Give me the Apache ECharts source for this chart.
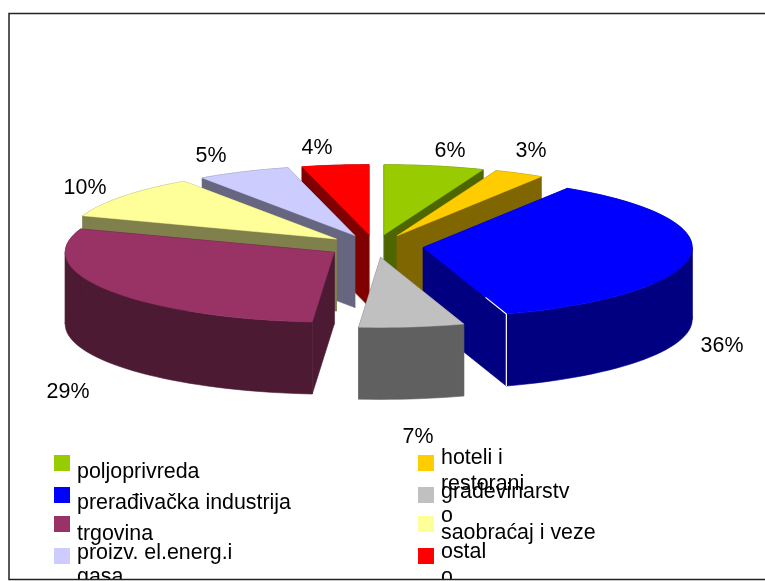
<!DOCTYPE html>
<html>
<head>
<meta charset="utf-8">
<style>
  html, body { margin: 0; padding: 0; background: #fff; }
  #chart { width: 765px; height: 581px; }
</style>
<script src="https://cdn.jsdelivr.net/npm/echarts@6/dist/echarts.min.js"></script>
</head>
<body>
<div id="chart"></div>
<script>
const categories = ['poljoprivreda', 'hoteli i restorani', 'prerađivačka industrija', 'građevinarstvo', 'trgovina', 'saobraćaj i veze', 'proizv. el.energ.i gasa', 'ostalo']
// shares, printed labels are separate because they do not quite agree
const shares = [6, 3, 36, 6.3, 29.1, 10, 5.6, 4]
const shareLabels = ['6%', '3%', '36%', '7%', '29%', '10%', '5%', '4%']
const topColors = ['#99cc00', '#ffcc00', '#0000ff', '#c0c0c0', '#993366', '#ffff99', '#ccccff', '#ff0000']
const wallColors = ['#4d6600', '#806600', '#000080', '#606060', '#4d1a33', '#80804d', '#666680', '#800000']
// back to front
const paintOrder = [7, 6, 5, 0, 1, 2, 4, 3]

const FONT = '"Liberation Sans", Arial, sans-serif'
const FONT_SIZE = 21.4
const cx = 375, cy = 246, rx = 269, ry = 70, depth = 72
const explodeX = 48.6, explodeY = 11.5
const seamSlice = 2

const total = shares.reduce((a, b) => a + b, 0)
const starts = []
shares.reduce((acc, v, i) => {
  starts[i] = acc
  return acc + v
}, 0)

function arcPoints(ax, ay, a0, a1) {
  const pts = []
  const steps = Math.max(2, Math.round((a1 - a0) / 0.04))
  for (let s = 0; s <= steps; s++) {
    const t = a0 + ((a1 - a0) * s) / steps
    pts.push([ax + rx * Math.sin(t), ay - ry * Math.cos(t)])
  }
  return pts
}

function renderSlice(params, api) {
  const i = api.value(0)
  const a0 = (starts[i] / total) * Math.PI * 2
  const a1 = ((starts[i] + api.value(1)) / total) * Math.PI * 2
  const mid = (a0 + a1) / 2
  const ax = cx + explodeX * Math.sin(mid)
  const ay = cy - explodeY * Math.cos(mid)
  const arc = arcPoints(ax, ay, a0, a1)
  const down = (p) => [p[0], p[1] + depth]
  const first = arc[0]
  const last = arc[arc.length - 1]
  const children = []
  // radial faces and the rim all use one shade, so order inside a slice does not matter
  const wallStyle = { fill: wallColors[i], stroke: wallColors[i], lineWidth: 0.6 }
  ;[first, last].forEach((p) => {
    children.push({
      type: 'polygon',
      shape: { points: [[ax, ay], p, down(p), [ax, ay + depth]] },
      style: wallStyle,
    })
  })
  // split the rim where it turns back in x, else the polygon crosses itself and leaves a hole
  const cuts = [a0]
  ;[Math.PI / 2, (Math.PI * 3) / 2].forEach((c) => {
    if (c > a0 && c < a1) cuts.push(c)
  })
  cuts.push(a1)
  for (let c = 0; c < cuts.length - 1; c++) {
    const part = arcPoints(ax, ay, cuts[c], cuts[c + 1])
    children.push({
      type: 'polygon',
      shape: { points: part.concat(part.map((p) => down(p)).reverse()) },
      style: wallStyle,
    })
  }
  children.push({
    type: 'polygon',
    shape: { points: [[ax, ay]].concat(arc) },
    style: { fill: topColors[i], stroke: topColors[i], lineWidth: 0.5 },
  })
  // the blue slice has a thin white seam on its closing edge
  if (i === seamSlice) {
    children.push({
      type: 'polyline',
      shape: { points: [[ax + (last[0] - ax) * 0.75, ay + (last[1] - ay) * 0.75], last, down(last)] },
      style: { fill: 'none', stroke: '#fff', lineWidth: 1.2 },
    })
  }
  return { type: 'group', children: children }
}

// where the labels and the legend sit on the page
const labelAnchors = [[450, 151], [531, 151], [722, 346], [418, 437], [68, 392], [85, 188], [211, 156], [317, 148]]
const legendSwatches = [[54, 455], [418, 455], [54, 487], [418, 487], [54, 516], [418, 516], [54, 548], [418, 548]]
const legendLines = [
  [['poljoprivreda', 77, 472]],
  [['hoteli i', 441, 458], ['restorani', 441, 484]],
  [['prerađivačka industrija', 77, 503]],
  [['građevinarstv', 441, 492], ['o', 441, 516]],
  [['trgovina', 77, 534]],
  [['saobraćaj i veze', 441, 533]],
  [['proizv. el.energ.i', 77, 553]],
  [['ostal', 441, 552]],
]
legendLines[6].push(['gasa', 77, 577])
legendLines[7].push(['o', 441, 577])

const graphics = []
shareLabels.forEach((text, i) => {
  graphics.push({
    type: 'text',
    x: labelAnchors[i][0],
    y: labelAnchors[i][1],
    style: { text: text, font: FONT_SIZE + 'px ' + FONT, fill: '#000', align: 'center', verticalAlign: 'middle' },
  })
})
legendSwatches.forEach((p, i) => {
  graphics.push({
    type: 'rect',
    shape: { x: p[0], y: p[1], width: 16, height: 16 },
    style: { fill: topColors[i] },
  })
  legendLines[i].forEach((line) => {
    graphics.push({
      type: 'text',
      x: line[1],
      y: line[2],
      style: { text: line[0], font: FONT_SIZE + 'px ' + FONT, fill: '#000', align: 'left', verticalAlign: 'middle' },
    })
  })
})
// text runs off the chart area at the bottom, cover what falls below the frame
graphics.push({
  type: 'rect',
  shape: { x: 0, y: 579, width: 765, height: 2 },
  style: { fill: '#fff' },
})
// frame is open on the right, the picture was cut there
graphics.push({
  type: 'polyline',
  shape: { points: [[765, 13.5], [9, 13.5], [9, 579.5], [765, 579.5]] },
  style: { fill: 'none', stroke: '#222', lineWidth: 1.5 },
})

const chart = echarts.init(document.getElementById('chart'), null, { renderer: 'canvas' })
chart.setOption({
  animation: false,
  backgroundColor: '#fff',
  series: [
    {
      type: 'custom',
      coordinateSystem: 'none',
      renderItem: renderSlice,
      silent: true,
      data: paintOrder.map((i) => ({ name: categories[i], value: [i, shares[i]] })),
    },
  ],
  graphic: { elements: graphics },
})
</script>
</body>
</html>
